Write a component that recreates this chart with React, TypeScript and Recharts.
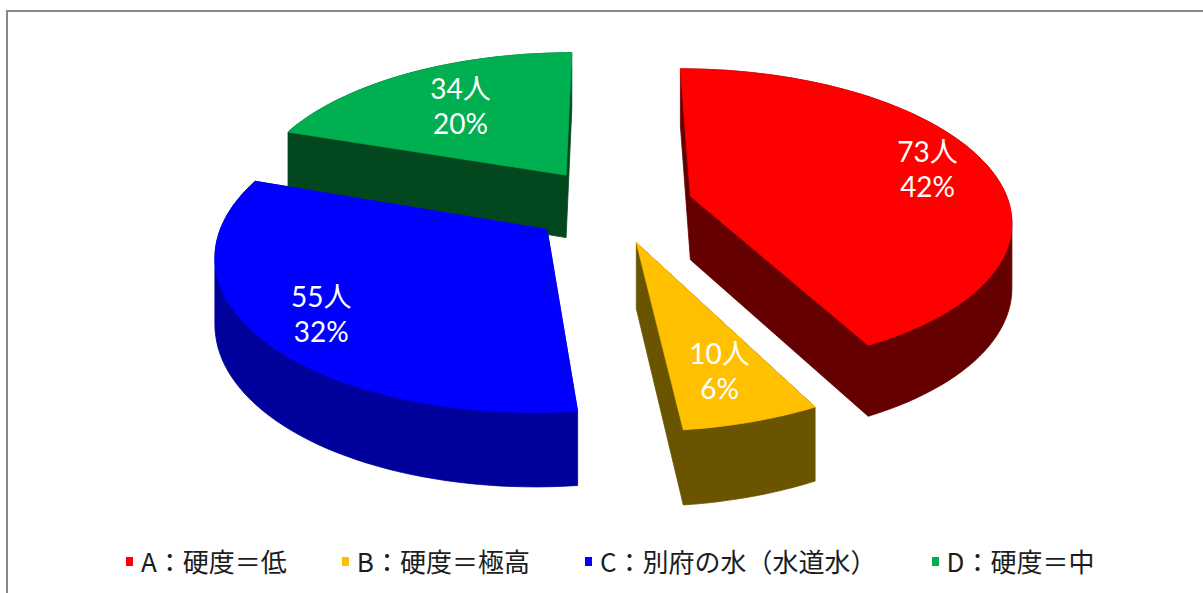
import { PieChart, Pie, Legend } from "recharts";

const CATEGORIES = ["A：硬度＝低", "B：硬度＝極高", "C：別府の水（水道水）", "D：硬度＝中"];
const COUNTS = [73, 10, 55, 34];
const TOP_COLORS = ["#ff0000", "#ffc000", "#0000ff", "#00b050"];
const SIDE_COLORS = ["#650000", "#6b5400", "#00009a", "#03471f"];
// how far out (fraction of radius) each data label sits
const LABEL_RADIUS = [0.8, 0.75, 0.8, 0.65];

const data = CATEGORIES.map((name, i) => ({ name, value: COUNTS[i], idx: i }));

// fake 3D: tilt + a bit of perspective, slices pulled out along their mid angle
const TILT = 0.4655;
const PERSP = 0.147;
const EXPLODE = 0.255;
const DEPTH = 64;

type Pt = [number, number];
const rad = (d: number) => (d * Math.PI) / 180;

function proj(cx: number, cy: number, r: number, u: number, v: number, drop = 0): Pt {
  const d = 1 + PERSP * v;
  return [cx + (r * u) / d, cy + (-TILT * r * v) / d + drop / Math.pow(d, 0.8)];
}

// slice outline on the unit disc (u right, v back)
function outline(p: any): Pt[] {
  const { startAngle, endAngle, midAngle } = p;
  const m = rad(midAngle);
  const ou = EXPLODE * Math.cos(m);
  const ov = EXPLODE * Math.sin(m);
  const pts: Pt[] = [[ou, ov]];
  const n = Math.ceil(Math.abs(endAngle - startAngle) / 2) + 1;
  for (let i = 0; i <= n; i++) {
    const a = rad(startAngle + ((endAngle - startAngle) * i) / n);
    pts.push([ou + Math.cos(a), ov + Math.sin(a)]);
  }
  return pts;
}

function hull(points: Pt[]): Pt[] {
  const pts = [...points].sort((a, b) => a[0] - b[0] || a[1] - b[1]);
  const cross = (o: Pt, a: Pt, b: Pt) => (a[0] - o[0]) * (b[1] - o[1]) - (a[1] - o[1]) * (b[0] - o[0]);
  const lower: Pt[] = [];
  for (const p of pts) {
    while (lower.length >= 2 && cross(lower[lower.length - 2], lower[lower.length - 1], p) <= 0) lower.pop();
    lower.push(p);
  }
  const upper: Pt[] = [];
  for (let i = pts.length - 1; i >= 0; i--) {
    const p = pts[i];
    while (upper.length >= 2 && cross(upper[upper.length - 2], upper[upper.length - 1], p) <= 0) upper.pop();
    upper.push(p);
  }
  upper.pop();
  lower.pop();
  return lower.concat(upper);
}

const toPath = (pts: Pt[]) =>
  pts.map((p, i) => `${i ? "L" : "M"}${p[0].toFixed(1)},${p[1].toFixed(1)}`).join(" ") + " Z";

function SideShape(props: any) {
  const { cx, cy, outerRadius } = props;
  const idx = props.payload?.idx ?? props.idx ?? 0;
  const uv = outline(props);
  const top = uv.map(([u, v]) => proj(cx, cy, outerRadius, u, v));
  const bottom = uv.map(([u, v]) => proj(cx, cy, outerRadius, u, v, DEPTH));
  const color = SIDE_COLORS[idx];
  return <path d={toPath(hull(top.concat(bottom)))} fill={color} stroke={color} strokeWidth={0.8} />;
}

function TopShape(props: any) {
  const { cx, cy, outerRadius } = props;
  const idx = props.payload?.idx ?? props.idx ?? 0;
  const top = outline(props).map(([u, v]) => proj(cx, cy, outerRadius, u, v));
  const color = TOP_COLORS[idx];
  return <path d={toPath(top)} fill={color} stroke={color} strokeWidth={0.8} />;
}

function SliceLabel(props: any) {
  const { cx, cy, outerRadius, midAngle, percent, value } = props;
  const idx = props.payload?.idx ?? props.idx ?? 0;
  const m = rad(midAngle);
  const f = LABEL_RADIUS[idx];
  const u = (EXPLODE + f) * Math.cos(m);
  const v = (EXPLODE + f) * Math.sin(m);
  const [x, y] = proj(cx, cy, outerRadius, u, v);
  return (
    <text
      x={x}
      y={y}
      fill="#ffffff"
      textAnchor="middle"
      fontSize={28}
      fontFamily="Lato, 'Noto Sans CJK JP', sans-serif"
    >
      <tspan x={x} dy={-7}>{`${value}人`}</tspan>
      <tspan x={x} dy={35}>{`${Math.round(percent * 100)}%`}</tspan>
    </text>
  );
}

function LegendContent() {
  return (
    <div
      style={{
        display: "flex",
        alignItems: "center",
        paddingLeft: 126,
        fontFamily: "'Noto Sans CJK JP', sans-serif",
        fontSize: 26,
        color: "#1c1c1c",
        lineHeight: "30px",
        whiteSpace: "nowrap",
      }}
    >
      {CATEGORIES.map((name, i) => (
        <div key={name} style={{ display: "flex", alignItems: "center", marginRight: 55 }}>
          <span style={{ width: 7, height: 9, background: TOP_COLORS[i], marginRight: 8, display: "inline-block" }} />
          <span>{name}</span>
        </div>
      ))}
    </div>
  );
}

export default function App() {
  return (
    <div style={{ position: "absolute", left: 0, top: 0, width: 1203, height: 593, background: "#fff", overflow: "hidden" }}>
      <div
        style={{
          position: "absolute",
          left: 6,
          top: 10,
          width: 1197,
          height: 583,
          borderTop: "2px solid #888",
          borderLeft: "2px solid #888",
          boxSizing: "border-box",
        }}
      />
      <div style={{ position: "absolute", left: 0, top: 0 }}>
        <PieChart width={1203} height={593}>
          <Pie
            data={data}
            dataKey="value"
            nameKey="name"
            cx={607}
            cy={200}
            outerRadius={319}
            startAngle={90}
            endAngle={-270}
            shape={SideShape}
            legendType="none"
            isAnimationActive={false}
          />
          <Pie
            data={data}
            dataKey="value"
            nameKey="name"
            cx={607}
            cy={200}
            outerRadius={319}
            startAngle={90}
            endAngle={-270}
            shape={TopShape}
            label={SliceLabel}
            labelLine={false}
            isAnimationActive={false}
          />
          <Legend
            content={LegendContent}
            wrapperStyle={{ position: "absolute", left: 0, top: 546, width: 1203 }}
          />
        </PieChart>
      </div>
    </div>
  );
}
